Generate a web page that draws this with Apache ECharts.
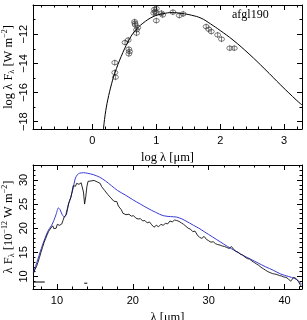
<!DOCTYPE html>
<html><head><meta charset="utf-8">
<script src="https://cdn.jsdelivr.net/npm/echarts@6/dist/echarts.min.js"></script>
<style>html,body{margin:0;padding:0;background:#fff}#c{width:307px;height:320px}</style>
</head><body><div id="c"></div>
<script>
// ---- Top panel: SED (log lambda vs log lambda F_lambda)
const sedX = [0.35,0.35,0.36,0.51,0.56,0.57,0.58,0.57,0.66,0.665,0.67,0.69,0.69,0.71,0.97,0.98,1.0,1.0,0.96,1.0,1.08,1.1,1.26,1.36,1.42,1.78,1.82,1.86,1.96,2.02,2.15,2.22];
const sedY = [-13.95,-14.63,-14.95,-12.57,-12.4,-13.03,-13.19,-13.35,-11.14,-11.25,-11.36,-11.7,-11.93,-11.55,-10.3,-10.45,-10.25,-10.55,-10.55,-11.07,-10.56,-10.68,-10.49,-10.72,-10.61,-11.48,-11.66,-11.82,-12.05,-12.34,-12.96,-12.96];
const modelX = [0.17,0.2,0.24,0.3,0.35,0.45,0.56,0.66,0.79,0.95,1.1,1.25,1.4,1.55,1.7,1.85,2.0,2.2,2.45,2.7,2.95,3.2,3.28];
const modelY = [-18.6,-17.5,-16.5,-15.4,-14.67,-13.53,-12.5,-11.8,-11.25,-10.8,-10.6,-10.52,-10.58,-10.7,-10.9,-11.3,-11.75,-12.4,-13.35,-14.4,-15.5,-16.55,-16.85];

// ---- Bottom panel: spectrum (lambda vs lambda F_lambda)
const specX = [6.9,7.1,7.3,7.5,7.7,7.9,8.1,8.3,8.5,8.7,8.9,9.1,9.3,9.45,9.6,9.75,9.9,10.05,10.2,10.35,10.5,10.65,10.8,10.95,11.1,11.25,11.4,11.55,11.7,11.85,12.0,12.15,12.3,12.45,12.6,12.75,12.9,13.05,13.2,13.35,13.5,13.65,13.8,13.95,14.1,14.3,14.5,14.7,14.9,15.1,15.3,15.5,15.7,15.9,16.1,16.3,16.5,16.7,16.9,17.1,17.3,17.5,17.7,17.9,18.1,18.3,18.5,18.7,18.9,19.1,19.3,19.5,19.8,20.1,20.4,20.7,21.0,21.3,21.6,21.9,22.2,22.5,22.8,23.1,23.4,23.7,24.0,24.3,24.6,24.9,25.2,25.5,25.8,26.1,26.4,26.7,27.0,27.3,27.6,27.9,28.2,28.5,28.8,29.1,29.4,29.7,30.0,30.3,30.6,30.9,31.2,31.5,31.8,32.1,32.4,32.7,33.0,33.3,33.6,33.9,34.2,34.5,34.8,35.1,35.4,35.7,36.0,36.3,36.6,36.9,37.2,37.5,37.8,38.1,38.4,38.7,39.0,39.3,39.6,39.9,40.2,40.5,40.8,41.0,41.2,41.5,41.8,42.1,42.3];
const specY = [10.6,11.4,12.0,12.9,13.9,15.0,16.0,17.0,17.8,18.6,19.3,19.8,20.1,20.5,19.9,20.2,20.0,20.8,21.2,20.6,20.3,20.9,21.6,22.3,22.0,22.8,24.0,25.2,25.8,26.4,27.6,28.8,29.2,28.7,29.3,29.0,29.1,28.8,29.4,29.5,27.5,25.0,26.5,28.6,29.7,29.3,29.8,29.4,29.9,30.0,29.6,29.8,29.3,28.6,28.9,27.8,27.9,27.0,27.2,26.3,26.5,25.6,25.2,25.5,24.6,24.2,23.8,23.1,23.4,22.8,23.2,22.9,22.5,22.6,22.1,21.9,22.0,21.5,21.6,21.1,21.3,20.7,20.2,20.6,20.3,20.8,20.6,21.0,20.9,21.5,21.3,21.7,21.6,21.4,21.1,20.8,20.4,20.0,19.8,19.3,19.4,18.6,18.1,17.9,18.3,17.7,17.4,17.1,17.2,16.8,16.6,16.5,16.3,16.2,16.0,15.8,16.2,15.6,15.2,15.0,14.6,14.4,14.0,13.7,13.6,13.2,12.9,12.6,12.3,11.9,11.6,11.3,11.0,10.8,10.6,10.5,10.4,10.2,10.1,9.9,9.8,9.5,9.0,9.4,9.8,9.6,9.0,8.2,7.8];
const fitX = [6.9,7.2,7.5,7.8,8.1,8.4,8.7,9.0,9.3,9.6,9.9,10.2,10.4,10.7,11.0,11.2,11.5,11.8,12.1,12.4,12.7,13.0,13.5,14.0,14.8,15.6,16.4,17.2,18.0,19.0,20.0,21.0,22.0,23.0,24.0,25.0,25.8,26.5,27.0,28.0,28.7,29.5,30.5,31.5,32.5,33.5,34.5,35.5,36.5,37.5,38.5,39.5,40.5,41.3,41.8,42.3];
const fitY = [10.8,12.2,13.6,15.1,16.5,17.8,19.0,19.9,20.6,21.6,22.9,24.2,23.9,22.8,22.3,23.0,24.8,26.3,28.0,30.2,31.1,31.4,31.5,31.4,31.1,30.6,29.8,28.8,27.8,26.9,25.9,25.0,24.1,23.3,22.6,22.4,22.3,21.9,21.5,20.6,20.0,19.2,18.2,17.2,16.2,15.3,14.4,13.6,12.8,12.0,11.3,10.5,10.0,9.6,9.1,8.3];
const dash1X = [6.95,8.4], dash1Y = [8.85,8.85];
const dash2X = [13.6,14.0], dash2Y = [8.6,8.6];

const zip = (a,b) => a.map((v,i)=>[v,b[i]]);

const tickFont = {fontFamily:'Liberation Sans', fontSize:11, color:'#000'};
function xAx(grid, pos, min, max, split, minor, show) {
  return {type:'value', gridIndex:grid, position:pos, min, max, splitNumber:split, scale:true,
    axisLine:{show:true, onZero:false, lineStyle:{color:'#000', width:1}},
    axisTick:{show:true, inside:true, length:5, lineStyle:{color:'#000'}},
    minorTick:{show:true, splitNumber:minor, length:2.5, lineStyle:{color:'#000'}},
    axisLabel:{show:show, showMinLabel:false, showMaxLabel:false, margin:6, ...tickFont,
      formatter:v => String(v).replace('-', '−')},
    splitLine:{show:false}};
}
function yAx(grid, pos, min, max, split, minor, show) {
  const a = xAx(grid,pos,min,max,split,minor,show);
  a.axisLabel.rotate = 90; a.axisLabel.margin = 4;
  return a;
}

const serif = 'Liberation Serif';
const titleRich = {
  n:{fontFamily:serif, fontSize:12.5, color:'#000', lineHeight:15},
  sub:{fontFamily:serif, fontSize:8, color:'#000', verticalAlign:'bottom', lineHeight:15, padding:[4,0,0,0]},
  sup:{fontFamily:serif, fontSize:8, color:'#000', verticalAlign:'top', lineHeight:15, padding:[0,0,5,0]}
};

const option = {
  animation:false,
  grid:[{left:33, top:5, width:269, height:124, containLabel:false, outerBoundsMode:'none'},
        {left:33, top:165, width:269, height:124, containLabel:false, outerBoundsMode:'none'}],
  xAxis:[
    Object.assign(xAx(0,'bottom',-0.93,3.28,4,5,true),{name:'{n|log λ [μm]}', nameLocation:'middle', nameGap:21, nameMoveOverlap:false, nameTextStyle:{rich:titleRich}}),
    xAx(0,'top',-0.93,3.28,4,5,false),
    Object.assign(xAx(1,'bottom',6.85,42.3,4,5,true),{name:'{n|λ [μm]}', nameLocation:'middle', nameGap:21, nameMoveOverlap:false, nameTextStyle:{rich:titleRich}}),
    xAx(1,'top',6.85,42.3,4,5,false)
  ],
  yAxis:[
    Object.assign(yAx(0,'left',-18.5,-10,4,2,true),{name:'{n|log λ F}{sub|λ}{n| [W m}{sup|−2}{n|]}', nameLocation:'middle', nameGap:17, nameRotate:90, nameMoveOverlap:false, nameTextStyle:{rich:titleRich}}),
    yAx(0,'right',-18.5,-10,4,2,false),
    Object.assign(yAx(1,'left',7.4,33.1,5,5,true),{name:'{n|λ F}{sub|λ}{n| [10}{sup|−12}{n| W m}{sup|−2}{n|]}', nameLocation:'middle', nameGap:17, nameRotate:90, nameMoveOverlap:false, nameTextStyle:{rich:titleRich}}),
    yAx(1,'right',7.4,33.1,5,5,false)
  ],
  graphic:[{type:'text', left:232, top:9, style:{text:'afgl190', font:'12px "Liberation Serif"', fill:'#000'}}],
  series:[
    {type:'line', xAxisIndex:0, yAxisIndex:0, data:zip(modelX,modelY), smooth:0.4, showSymbol:false, lineStyle:{color:'#000', width:1}},
    {type:'scatter', xAxisIndex:0, yAxisIndex:0, data:zip(sedX,sedY),
      symbol:'path://M0,-10 A10,10 0 1,1 0,10 A10,10 0 1,1 0,-10 Z M0,-14 L0,14', symbolSize:6,
      itemStyle:{color:'rgba(0,0,0,0)', borderColor:'#333', borderWidth:0.8}},
    {type:'line', xAxisIndex:2, yAxisIndex:2, data:zip(fitX,fitY), smooth:0.3, showSymbol:false, lineStyle:{color:'#3a3ad6', width:1}},
    {type:'line', xAxisIndex:2, yAxisIndex:2, data:zip(specX,specY), showSymbol:false, lineStyle:{color:'#111', width:0.9}},
    {type:'line', xAxisIndex:2, yAxisIndex:2, data:zip(dash1X,dash1Y), showSymbol:false, lineStyle:{color:'#000', width:1}},
    {type:'line', xAxisIndex:2, yAxisIndex:2, data:zip(dash2X,dash2Y), showSymbol:false, lineStyle:{color:'#000', width:1}}
  ]
};
echarts.init(document.getElementById('c')).setOption(option);
</script></body></html>
